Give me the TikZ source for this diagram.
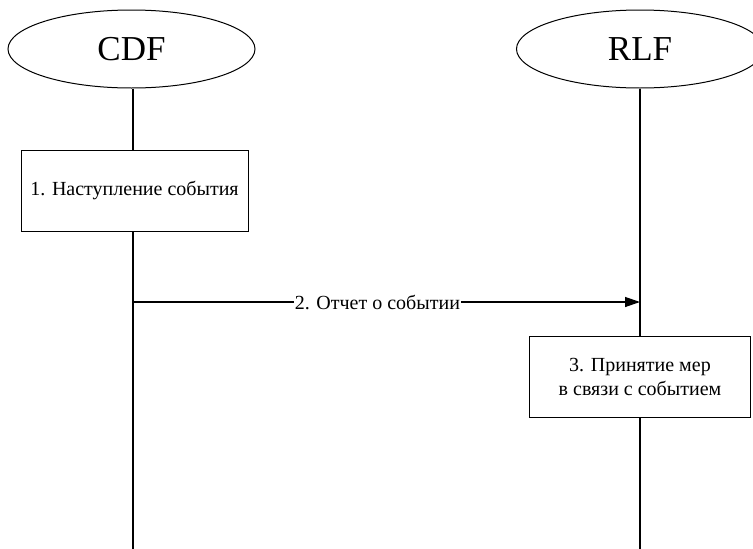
\documentclass[tikz,border=0pt]{standalone}
\usepackage{fontspec}
\setmainfont{Liberation Serif}
\usetikzlibrary{shapes.geometric,arrows.meta}
\begin{document}
\begin{tikzpicture}[x=1pt,y=-1pt,
  ent/.style={draw,ellipse,line width=1pt,minimum width=247pt,minimum height=78pt,inner sep=0pt,font=\fontsize{35}{40}\selectfont},
  actbox/.style={draw,line width=1pt,fill=white,inner sep=0pt,align=center,font=\fontsize{20}{24}\selectfont},
  life/.style={line width=1.3pt},
  msg/.style={line width=1.3pt,-{Triangle[length=15pt,width=10pt]}},
  lbl/.style={fill=white,inner sep=1pt,font=\fontsize{20}{24}\selectfont}]
\useasboundingbox (0,0) rectangle (753,549);
\clip (0,0) rectangle (753,549);
\node[ent] (cdf) at (131.5,49) {CDF};
\node[ent] (rlf) at (640,49) {RLF};
\coordinate (cdfend) at (133,549);
\coordinate (rlfend) at (640,549);
\draw[life] (cdf.south -| cdfend) -- (cdfend);
\draw[life] (rlf.south) -- (rlfend);
\node[actbox,minimum width=227pt,minimum height=81pt] (s1) at (134.5,190.5) {1. Наступление события};
\node[actbox,minimum width=221pt,minimum height=81pt] (s3) at (640,376.5) {3. Принятие мер\\в связи с событием};
\coordinate (a1) at (133,302);
\coordinate (a2) at (640,302);
\draw[msg] (a1) -- node[lbl,pos=0.482] (m2) {2. Отчет о событии} (a2);
\end{tikzpicture}
\end{document}
